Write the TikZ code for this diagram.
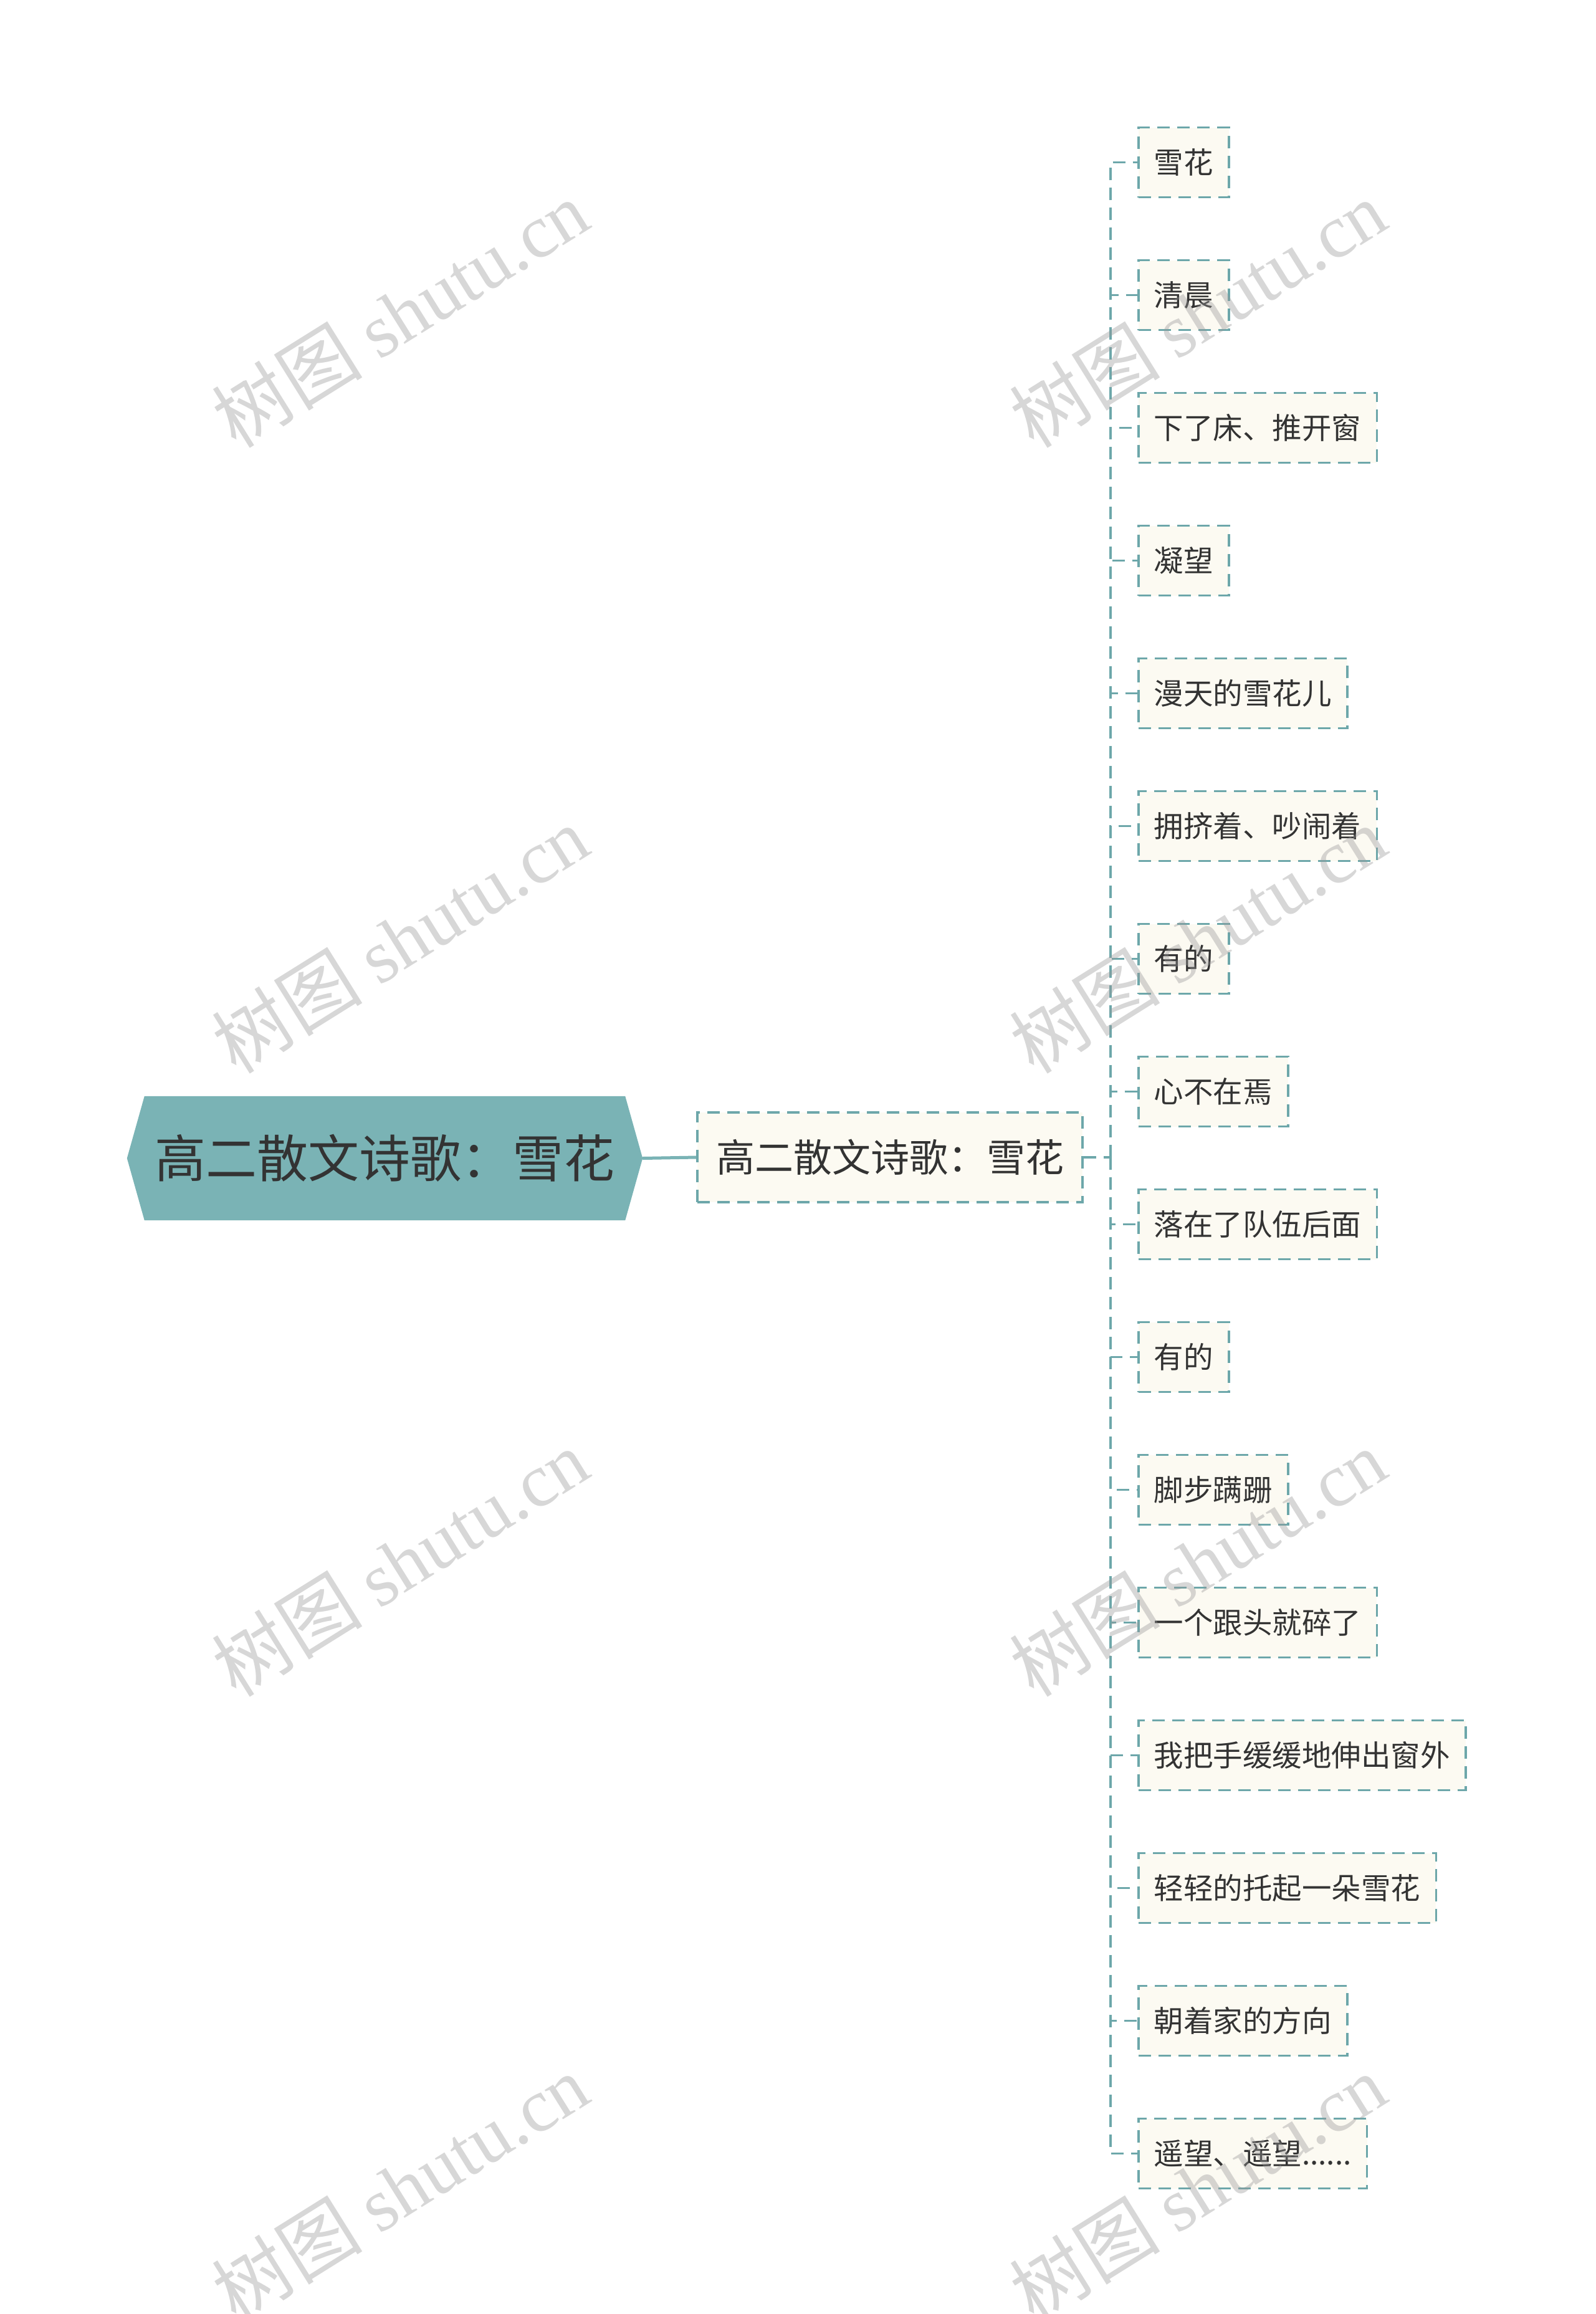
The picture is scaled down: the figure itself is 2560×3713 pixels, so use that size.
\documentclass[tikz,border=0pt]{standalone}
\usepackage{fontspec}
\setmainfont{Noto Sans CJK SC}
\newfontfamily\cjk{Noto Sans CJK SC}
\newfontfamily\wmserif{Liberation Serif}
\usetikzlibrary{backgrounds}
\newcommand\mysixdots{......}
\definecolor{rootfill}{HTML}{7AB3B5}
\definecolor{linecol}{HTML}{6DA7AA}
\definecolor{boxfill}{HTML}{FCFAF2}
\definecolor{txt}{HTML}{333333}
\definecolor{wmgray}{HTML}{969696}
\tikzset{
  x=1pt, y=1pt,
  rootnode/.style={inner sep=0pt, minimum width=827pt, minimum height=199pt, text=txt, font=\cjk\fontsize{82}{90}\selectfont},
  midnode/.style={draw=linecol, line width=4pt, dash pattern=on 20pt off 12pt, fill=boxfill, inner sep=0pt, minimum width=618pt, minimum height=144pt, text=txt, font=\cjk\fontsize{62}{70}\selectfont},
  leafnode/.style={draw=linecol, line width=3.5pt, dash pattern=on 20pt off 12pt, fill=boxfill, inner xsep=25pt, inner ysep=0pt, minimum height=112pt, anchor=west, text=txt, font=\cjk\fontsize{47.5}{56}\selectfont},
  conn/.style={draw=linecol, line width=3.5pt, dash pattern=on 20pt off 12pt},
  solidconn/.style={draw=rootfill, line width=5pt},
  wmark/.style={text=wmgray, opacity=0.38, rotate=32, inner sep=0pt}
}
\begin{document}
\begin{tikzpicture}
\useasboundingbox (0,0) rectangle (2560,-3713);

% root
\node[rootnode] (root) at (617.5,-1858.5) {高二散文诗歌：雪花};
\begin{pgfonlayer}{background}
\fill[white] (0,0) rectangle (2560,-3713);
\fill[rootfill] (root.west) -- ([xshift=28pt]root.north west) -- ([xshift=-28pt]root.north east) -- (root.east) -- ([xshift=-28pt]root.south east) -- ([xshift=28pt]root.south west) -- cycle;
\end{pgfonlayer}

% middle
\node[midnode] (mid) at (1428,-1857) {高二散文诗歌：雪花};
\draw[solidconn] (root.east) -- (mid.west);

\coordinate (junc) at (1782,-1857);
\draw[conn] (mid.east) -- (junc);

% leaves
\foreach \t [count=\i] in {雪花,清晨,下了床、推开窗,凝望,漫天的雪花儿,拥挤着、吵闹着,有的,心不在焉,落在了队伍后面,有的,脚步蹒跚,一个跟头就碎了,我把手缓缓地伸出窗外,轻轻的托起一朵雪花,朝着家的方向,遥望、遥望\mysixdots}{
  \node[leafnode] (l\i) at (1825,{-260.7-(\i-1)*213}) {\t};
  \draw[conn] (junc) |- (l\i.west);
}

% watermarks
\foreach \wy [count=\k] in {503,1507,2507,3510}{
  \node[wmark] (wl\k) at (642,-\wy) {\fontsize{121}{125}\selectfont\cjk 树图 \wmserif shutu.cn};
  \node[wmark] (wr\k) at (1922,-\wy) {\fontsize{121}{125}\selectfont\cjk 树图 \wmserif shutu.cn};
}
\end{tikzpicture}
\end{document}
